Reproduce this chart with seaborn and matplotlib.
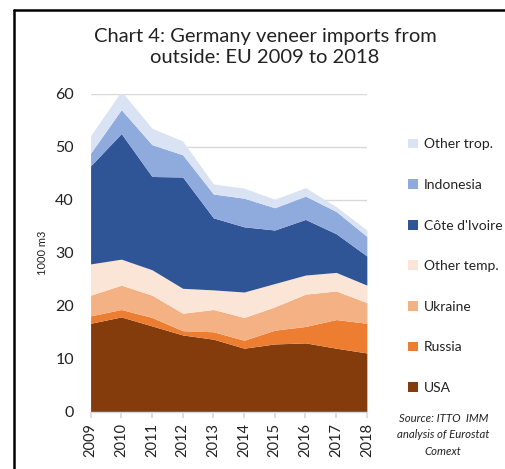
import matplotlib
matplotlib.use("Agg")
import matplotlib.pyplot as plt
from matplotlib.patches import Patch
from matplotlib.lines import Line2D
import seaborn as sns
import numpy as np

years = [2009, 2010, 2011, 2012, 2013, 2014, 2015, 2016, 2017, 2018]
series_names = ["USA", "Russia", "Ukraine", "Other temp.", "Côte d'Ivoire", "Indonesia", "Other trop."]
usa = [16.7, 17.9, 16.2, 14.5, 13.7, 12.0, 12.8, 13.0, 12.0, 11.1]
russia = [1.4, 1.4, 1.6, 0.8, 1.4, 1.5, 2.6, 3.1, 5.4, 5.6]
ukraine = [3.9, 4.6, 4.2, 3.3, 4.2, 4.3, 4.4, 6.1, 5.4, 3.9]
other_temp = [5.9, 4.9, 4.8, 4.7, 3.7, 4.8, 4.4, 3.6, 3.5, 3.3]
cote_divoire = [18.5, 23.7, 17.6, 21.0, 13.6, 12.3, 10.1, 10.5, 7.3, 5.5]
indonesia = [2.4, 4.5, 6.0, 4.2, 4.5, 5.4, 4.2, 4.4, 4.2, 3.7]
other_trop = [3.3, 3.5, 3.1, 2.6, 1.9, 1.9, 1.6, 1.6, 0.9, 1.2]
colors = ["#843C0C", "#ED7D31", "#F4B183", "#FBE5D6", "#2F5597", "#8FAADC", "#DAE3F3"]
yticks = [0, 10, 20, 30, 40, 50, 60]

sns.set_theme(style="white")
plt.rcParams['font.family'] = ['Lato', 'DejaVu Sans']

fig = plt.figure(figsize=(5.06, 4.69), dpi=100)
ax = fig.add_axes([0.179, 0.122, 0.546, 0.678])

ax.stackplot(years, usa, russia, ukraine, other_temp, cote_divoire, indonesia, other_trop,
             colors=colors, labels=series_names, linewidth=0, zorder=2)

ax.set_xlim(years[0], years[-1])
ax.set_ylim(0, 60)
ax.set_yticks(yticks)
ax.set_yticklabels([str(v) for v in yticks], fontsize=11.5, color="#222222")
ax.set_xticks(years)
ax.set_xticklabels([str(y) for y in years], rotation=90, fontsize=10.5, color="#222222")
ax.yaxis.grid(True, color="#d9d9d9", linewidth=1, zorder=0)
ax.set_axisbelow(True)
for s in ["top", "right", "left"]:
    ax.spines[s].set_visible(False)
ax.spines["bottom"].set_color("#d9d9d9")
ax.spines["bottom"].set_linewidth(1)
ax.tick_params(axis="x", bottom=True, length=4, color="#d9d9d9", pad=4)
ax.tick_params(axis="y", left=False, pad=6)
ax.set_ylabel("1000 m3", fontsize=8, color="#222222")
ax.yaxis.set_label_coords(-0.155, 0.5)

fig.suptitle("Chart 4: Germany veneer imports from\noutside: EU 2009 to 2018",
             x=0.524, y=0.94, fontsize=14.5, color="#222222", linespacing=1.3)

handles = [Patch(facecolor=c, edgecolor="none") for c in colors][::-1]
labels = series_names[::-1]
leg = fig.legend(handles, labels, loc="upper left", bbox_to_anchor=(0.795, 0.717),
                 frameon=False, fontsize=10, handlelength=0.7, handleheight=0.7,
                 handletextpad=0.45, labelspacing=2.06, borderaxespad=0)
for t in leg.get_texts():
    t.set_color("#222222")

fig.text(0.876, 0.073, "Source: ITTO  IMM\nanalysis of Eurostat\nComext", ha="center", va="center",
         fontsize=8.2, style="italic", color="#222222", linespacing=1.6)

# outer frame (left and top edges visible)
fig.add_artist(Line2D([14/506, 14/506], [0, 1 - 10/469], transform=fig.transFigure, color="black", linewidth=1.8))
fig.add_artist(Line2D([14/506, 1], [1 - 10/469, 1 - 10/469], transform=fig.transFigure, color="black", linewidth=1.8))

fig.savefig("out.png", dpi=100)
